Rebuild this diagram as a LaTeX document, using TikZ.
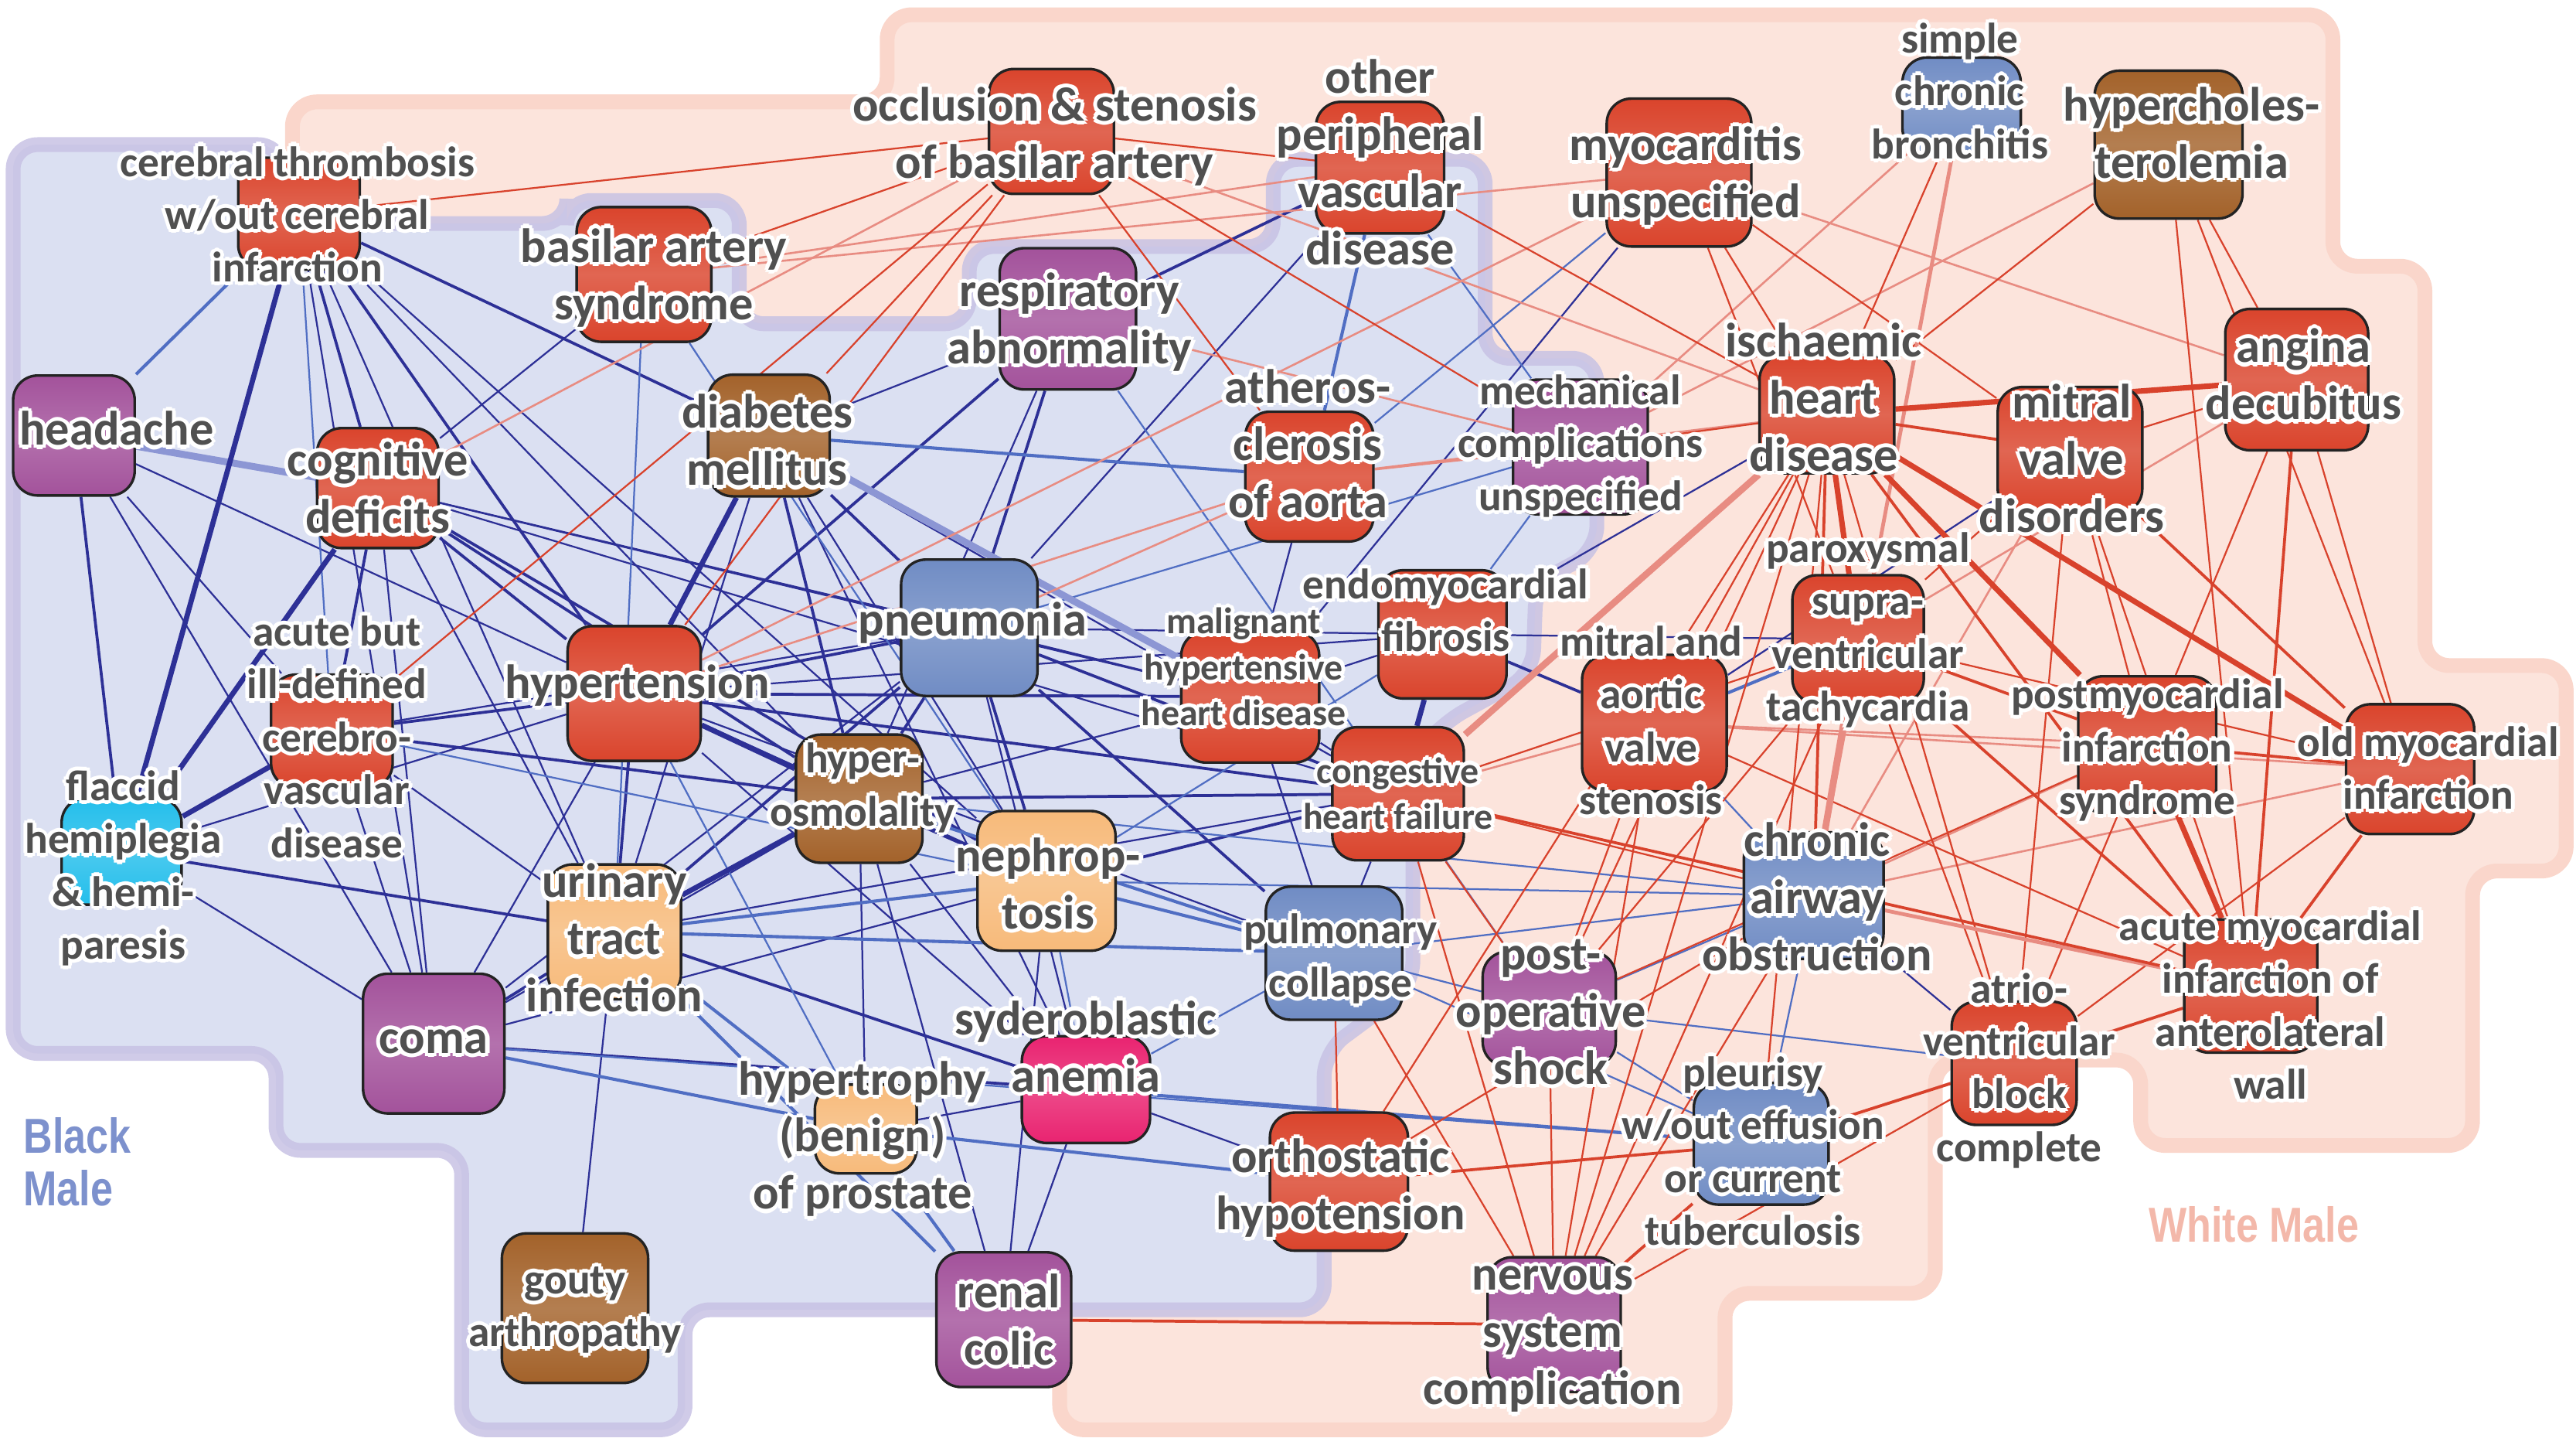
\documentclass[tikz,border=0pt]{standalone}
\usepackage{fontspec}
\setmainfont{Carlito}
\newfontfamily\regfont{Liberation Sans}[FakeStretch=0.82]
\definecolor{boxred}{RGB}{218,68,44}
\definecolor{boxpur}{RGB}{163,82,155}
\definecolor{boxbrn}{RGB}{163,98,42}
\definecolor{boxblu}{RGB}{112,140,196}
\definecolor{boxora}{RGB}{247,186,122}
\definecolor{boxcya}{RGB}{35,190,235}
\definecolor{boxpnk}{RGB}{233,35,112}
\definecolor{boxedge}{RGB}{35,35,35}
\definecolor{txtgray}{RGB}{80,80,80}
\definecolor{bmfill}{RGB}{219,224,242}
\definecolor{bmline}{RGB}{200,194,228}
\definecolor{wmfill}{RGB}{252,228,220}
\definecolor{wmline}{RGB}{250,214,203}
\definecolor{navy}{RGB}{45,48,150}
\definecolor{lblue}{RGB}{80,110,195}
\definecolor{lav}{RGB}{140,150,212}
\definecolor{ered}{RGB}{216,66,44}
\definecolor{lred}{RGB}{232,140,130}
\definecolor{bmtext}{RGB}{125,145,205}
\definecolor{wmtext}{RGB}{243,184,170}
\newdimen\glwd \glwd=1.4pt
\newcommand\glc[2]{\rlap{\color{white}\smash{\kern#1\raise#2\copy0}}}
\newcommand\glw[1]{\leavevmode\setbox0=\hbox{#1}%
\glc{-\glwd}{0pt}\glc{\glwd}{0pt}\glc{0pt}{\glwd}\glc{0pt}{-\glwd}%
\glc{-.7\glwd}{.7\glwd}\glc{.7\glwd}{.7\glwd}\glc{-.7\glwd}{-.7\glwd}\glc{.7\glwd}{-.7\glwd}%
\strut\copy0}
\pgfdeclarelayer{bgl}
\pgfdeclarelayer{edl}
\pgfdeclarelayer{tpl}
\pgfsetlayers{bgl,edl,main,tpl}
\tikzset{
  dbox/.style={draw=boxedge, line width=0.9pt, rounded corners=3mm, inner sep=0pt},
  lblL/.style={font=\fontsize{16.7}{19.8}\selectfont\bfseries, text=txtgray, align=center, inner sep=0pt},
  lblN/.style={font=\fontsize{14.8}{18.3}\selectfont\bfseries, text=txtgray, align=center, inner sep=0pt},
  lblS/.style={font=\fontsize{12.8}{15.9}\selectfont\bfseries, text=txtgray, align=center, inner sep=0pt},
  eNT/.style={draw=navy, line width=0.6pt},
  eNM/.style={draw=navy, line width=1.0pt},
  eNK/.style={draw=navy, line width=1.8pt},
  eLT/.style={draw=lblue, line width=0.6pt},
  eLM/.style={draw=lblue, line width=1.1pt},
  eLK/.style={draw=lav, line width=2.4pt},
  eRT/.style={draw=ered, line width=0.6pt},
  eRM/.style={draw=ered, line width=1.0pt},
  eRK/.style={draw=ered, line width=1.9pt},
  ePT/.style={draw=lred, line width=0.7pt},
  ePM/.style={draw=lred, line width=1.3pt},
  ePK/.style={draw=lred, line width=2.3pt},
  bmreg/.style={fill=bmfill, draw=bmline, draw opacity=0.85, line width=1.8mm, rounded corners=3mm},
  wmreg/.style={fill=wmfill, draw=wmline, line width=1.8mm, rounded corners=3mm}
}
\newcommand\bx[6]{\node[dbox, top color=#6, bottom color=#6, middle color=#6!82!white, minimum width={#4*0.2mm}, minimum height={#5*0.2mm}] (#1) at (#2,#3) {};}
\begin{document}
\begin{tikzpicture}[x=0.2mm, y=-0.2mm]
\useasboundingbox (0,0) rectangle (1568,879);
\begin{pgfonlayer}{bgl}
\path[wmreg] (178,62) -- (540,62) -- (540,9) -- (1420,9) -- (1420,162) -- (1476,162) -- (1476,405) -- (1562,405) -- (1562,530) -- (1505,530) -- (1505,697) -- (1303,697) -- (1303,645) -- (1178,645) -- (1178,787) -- (1050,787) -- (1050,870) -- (645,870) -- (645,790) -- (700,790) -- (700,240) -- (178,240) -- cycle;
\path[bmreg] (8,88) -- (172,88) -- (172,136) -- (345,136) -- (345,122) -- (450,122) -- (450,197) -- (590,197) -- (590,150) -- (775,150) -- (775,97) -- (904,97) -- (904,218) -- (972,218) -- (972,335) -- (935,355) -- (933,410) -- (878,440) -- (860,462) -- (860,600) -- (806,640) -- (806,797) -- (417,797) -- (417,870) -- (281,870) -- (281,700) -- (168,700) -- (168,641) -- (8,641) -- cycle;
\end{pgfonlayer}
% boxes
\bx{ct}{182}{130}{74}{68}{boxred}
\bx{bas}{392}{167}{82}{82}{boxred}
\bx{occ}{640}{80}{76}{76}{boxred}
\bx{opv}{840}{102}{78}{80}{boxred}
\bx{myo}{1022}{105}{88}{90}{boxred}
\bx{scb}{1194}{64}{72}{58}{boxblu}
\bx{hch}{1320}{88}{90}{90}{boxbrn}
\bx{ang}{1398}{231}{87}{86}{boxred}
\bx{head}{45}{265}{74}{73}{boxpur}
\bx{cog}{230}{297}{74}{73}{boxred}
\bx{dia}{468}{265}{74}{74}{boxbrn}
\bx{resp}{650}{194}{83}{86}{boxpur}
\bx{ath}{797}{290}{78}{79}{boxred}
\bx{mech}{962}{272}{82}{82}{boxpur}
\bx{ihd}{1112}{252}{82}{72}{boxred}
\bx{mvd}{1260}{274}{88}{77}{boxred}
\bx{pneu}{590}{382}{83}{83}{boxblu}
\bx{acd}{202}{445}{74}{69}{boxred}
\bx{hyp}{386}{422}{81}{82}{boxred}
\bx{mhh}{761}{424}{84}{80}{boxred}
\bx{emf}{878}{386}{78}{78}{boxred}
\bx{mas}{1007}{440}{88}{83}{boxred}
\bx{svt}{1131}{389}{80}{78}{boxred}
\bx{pmi}{1307}{453}{84}{83}{boxred}
\bx{omi}{1467}{468}{78}{79}{boxred}
\bx{fh}{74}{518}{73}{65}{boxcya}
\bx{hos}{523}{486}{77}{78}{boxbrn}
\bx{chf}{851}{483}{80}{81}{boxred}
\bx{nep}{637}{536}{84}{85}{boxora}
\bx{cao}{1104}{545}{85}{77}{boxblu}
\bx{uti}{374}{567}{81}{82}{boxora}
\bx{pc}{812}{580}{83}{81}{boxblu}
\bx{pos}{943}{614}{81}{70}{boxpur}
\bx{ami}{1370}{600}{81}{81}{boxred}
\bx{avb}{1226}{647}{76}{75}{boxred}
\bx{coma}{264}{635}{86}{85}{boxpur}
\bx{sa}{661}{663}{78}{65}{boxpnk}
\bx{bph}{527}{687}{62}{54}{boxora}
\bx{ple}{1072}{696}{82}{74}{boxblu}
\bx{oh}{815}{719}{84}{84}{boxred}
\bx{ga}{350}{796}{89}{91}{boxbrn}
\bx{rc}{611}{803}{82}{82}{boxpur}
\bx{nsc}{946}{806}{81}{82}{boxpur}
% edges
\begin{pgfonlayer}{edl}
\foreach \a/\b in {ct/cog, ct/hyp, ct/dia, head/fh, fh/uti, cog/acd, cog/hyp, cog/hos, cog/nep, acd/hyp, acd/hos, dia/pneu, dia/hos, resp/opv, resp/hyp, resp/pneu, chf/hyp, chf/hos, chf/pneu, chf/nep, mhh/hyp, pneu/hyp, pneu/hos, pneu/uti, pneu/nep, pneu/pc, hyp/uti, hyp/nep, hos/nep, uti/coma, uti/sa, coma/sa, mas/emf}
  \draw[eNM] (\a) -- (\b);
\foreach \a/\b in {ct/coma, ct/uti, ct/hos, ct/nep, head/hyp, head/coma, head/acd, fh/coma, fh/hyp, cog/uti, cog/coma, cog/pneu, cog/mhh, cog/bas, cog/chf, acd/coma, acd/uti, acd/pneu, dia/uti, dia/nep, dia/resp, dia/chf, dia/sa, resp/hos, opv/pneu, myo/mhh, chf/mhh, chf/pc, chf/uti, emf/mhh, emf/hyp, emf/pneu, mhh/pneu, mhh/pc, mhh/hos, mhh/ath, pneu/coma, pneu/sa, hyp/coma, hyp/pc, hyp/sa, hos/coma, hos/sa, hos/bph, hos/rc, uti/ga, nep/coma, nep/rc, sa/rc, sa/bph, oh/sa, ihd/emf, mvd/mas, svt/emf, cao/avb}
  \draw[eNT] (\a) -- (\b);
\foreach \a/\b in {ct/acd, acd/nep, bas/uti, bas/nep, resp/pos, opv/mech, myo/ath, emf/mech, emf/nep, pneu/mech, hyp/bph, nep/sa, sa/pc, mas/cao, cao/pc, cao/pos, cao/ple, cao/nep, cao/hos, avb/pos, pos/ple, pos/pc, ple/pc, ple/coma}
  \draw[eLT] (\a) -- (\b);
\foreach \a/\b in {ct/head, dia/ath, opv/ath, hos/pc, uti/nep, uti/pc, uti/bph, uti/rc, nep/pc, coma/bph, bph/rc, oh/bph, ple/sa, svt/mas}
  \draw[eLM] (\a) -- (\b);
\foreach \a/\b in {head/cog, dia/mhh}
  \draw[eLK] (\a) -- (\b);
\foreach \a/\b in {ct/fh, fh/cog, fh/acd, dia/hyp, hyp/hos, hos/uti, emf/chf}
  \draw[eNK] (\a) -- (\b);
\foreach \a/\b in {cog/occ, bas/opv, bas/myo, hyp/myo, myo/ang, scb/mech, hch/mech, ang/svt, resp/mech, ath/mech, ath/ihd, pneu/ath, hyp/ath, mvd/cao, pmi/cao, pmi/mas, omi/cao, omi/mas, ami/ple, mas/chf, ihd/occ}
  \draw[ePT] (\a) -- (\b);
\foreach \a/\b in {ct/occ, bas/occ, acd/occ, hyp/occ, dia/occ, occ/opv, occ/ath, occ/mech, opv/ihd, myo/ihd, myo/svt, myo/mvd, scb/ihd, hch/ihd, hch/ang, hch/omi, hch/ami, ang/mvd, ang/pmi, ang/omi, ihd/mech, ihd/avb, ihd/mas, ihd/pos, ihd/nsc, ihd/oh, ihd/ple, mvd/pmi, mvd/ami, mvd/svt, mvd/avb, svt/omi, svt/avb, svt/chf, svt/nsc, svt/pos, pmi/avb, pmi/pos, omi/avb, ami/mas, mas/nsc, mas/pos, cao/chf, cao/nsc, cao/oh, avb/nsc, pos/nsc, pos/chf, nsc/pc, nsc/chf, oh/pc}
  \draw[eRT] (\a) -- (\b);
\foreach \a/\b in {scb/cao, ami/cao}
  \draw[ePM] (\a) -- (\b);
\foreach \a/\b in {ihd/chf, svt/cao}
  \draw[ePK] (\a) -- (\b);
\foreach \a/\b in {ihd/mvd, ihd/ami, ihd/cao, mvd/omi, svt/pmi, svt/ami, pmi/omi, omi/ami, ang/ami, ami/avb, ami/chf, avb/ple, nsc/rc, nsc/ple, oh/ple}
  \draw[eRM] (\a) -- (\b);
\foreach \a/\b in {ihd/ang, ihd/svt, ihd/pmi, ihd/omi, pmi/ami}
  \draw[eRK] (\a) -- (\b);
\end{pgfonlayer}
% labels
\begin{pgfonlayer}{tpl}
\node[lblN] (ct-l) at (181,133) {\glw{cerebral thrombosis}\\\glw{w/out cerebral}\\\glw{infarction}};
\node[lblL] (bas-l) at (398,170) {\glw{basilar artery}\\\glw{syndrome}};
\node[lblL] (occ-l) at (642,84) {\glw{occlusion \& stenosis}\\\glw{of basilar artery}};
\node[lblL] (opv-l) at (840,102) {\glw{other}\\\glw{peripheral}\\\glw{vascular}\\\glw{disease}};
\node[lblL] (myo-l) at (1026,108) {\glw{myocarditis}\\\glw{unspecified}};
\node[lblN] (scb-l) at (1193,58) {\glw{simple}\\\glw{chronic}\\\glw{bronchitis}};
\node[lblL] (hch-l) at (1334,84) {\glw{hypercholes-}\\\glw{terolemia}};
\node[lblL] (resp-l) at (651,197) {\glw{respiratory}\\\glw{abnormality}};
\node[lblL] (head-l) at (71,264) {\glw{headache}};
\node[lblL] (cog-l) at (230,300) {\glw{cognitive}\\\glw{deficits}};
\node[lblL] (dia-l) at (467,271) {\glw{diabetes}\\\glw{mellitus}};
\node[lblL] (ath-l) at (796,273) {\glw{atheros-}\\\glw{clerosis}\\\glw{of aorta}};
\node[lblN] (mech-l) at (962,272) {\glw{mechanical}\\\glw{complications}\\\glw{unspecified}};
\node[lblL] (ihd-l) at (1110,245) {\glw{ischaemic}\\\glw{heart}\\\glw{disease}};
\node[lblL] (mvd-l) at (1261,282) {\glw{mitral}\\\glw{valve}\\\glw{disorders}};
\node[lblL] (ang-l) at (1402,231) {\glw{angina}\\\glw{decubitus}};
\node[lblN] (svt-l) at (1137,384) {\glw{paroxysmal}\\\glw{supra-}\\\glw{ventricular}\\\glw{tachycardia}};
\node[lblL] (pneu-l) at (592,380) {\glw{pneumonia}};
\node[lblN] (acd-l) at (205,451) {\glw{acute but}\\\glw{ill-defined}\\\glw{cerebro-}\\\glw{vascular}\\\glw{disease}};
\node[lblL] (hyp-l) at (388,418) {\glw{hypertension}};
\node[lblS] (mhh-l) at (757,408) {\glw{malignant}\\\glw{hypertensive}\\\glw{heart disease}};
\node[lblN] (emf-l) at (880,374) {\glw{endomyocardial}\\\glw{fibrosis}};
\node[lblN] (mas-l) at (1005,441) {\glw{mitral and}\\\glw{aortic}\\\glw{valve}\\\glw{stenosis}};
\node[lblN] (pmi-l) at (1307,457) {\glw{postmyocardial}\\\glw{infarction}\\\glw{syndrome}};
\node[lblN] (omi-l) at (1478,470) {\glw{old myocardial}\\\glw{infarction}};
\node[lblN] (fh-l) at (75,529) {\glw{flaccid}\\\glw{hemiplegia}\\\glw{\& hemi-}\\\glw{paresis}};
\node[lblN] (hos-l) at (525,480) {\glw{hyper-}\\\glw{osmolality}};
\node[lblS] (chf-l) at (851,485) {\glw{congestive}\\\glw{heart failure}};
\node[lblL] (nep-l) at (638,541) {\glw{nephrop-}\\\glw{tosis}};
\node[lblL] (cao-l) at (1106,549) {\glw{chronic}\\\glw{airway}\\\glw{obstruction}};
\node[lblL] (uti-l) at (374,574) {\glw{urinary}\\\glw{tract}\\\glw{infection}};
\node[lblN] (pc-l) at (816,584) {\glw{pulmonary}\\\glw{collapse}};
\node[lblL] (pos-l) at (944,618) {\glw{post-}\\\glw{operative}\\\glw{shock}};
\node[lblN] (ami-l) at (1382,614) {\glw{acute myocardial}\\\glw{infarction of}\\\glw{anterolateral}\\\glw{wall}};
\node[lblN] (avb-l) at (1229,652) {\glw{atrio-}\\\glw{ventricular}\\\glw{block}\\\glw{complete}};
\node[lblL] (coma-l) at (264,634) {\glw{coma}};
\node[lblL] (sa-l) at (661,640) {\glw{syderoblastic}\\\glw{anemia}};
\node[lblL] (bph-l) at (525,694) {\glw{hypertrophy}\\\glw{(benign)}\\\glw{of prostate}};
\node[lblN] (ple-l) at (1067,703) {\glw{pleurisy}\\\glw{w/out effusion}\\\glw{or current}\\\glw{tuberculosis}};
\node[lblL] (oh-l) at (816,724) {\glw{orthostatic}\\\glw{hypotension}};
\node[lblN] (ga-l) at (350,797) {\glw{gouty}\\\glw{arthropathy}};
\node[lblL] (rc-l) at (614,806) {\glw{renal}\\\glw{colic}};
\node[lblL] (nsc-l) at (945,813) {\glw{nervous}\\\glw{system}\\\glw{complication}};
\node[font=\regfont\bfseries\fontsize{17}{18.1}\selectfont, text=bmtext, align=left, anchor=west, inner sep=0pt] (bmlab) at (14,707) {Black\\Male};
\node[font=\regfont\bfseries\fontsize{17}{18.1}\selectfont, text=wmtext, inner sep=0pt] (wmlab) at (1372,745) {White Male};
\end{pgfonlayer}
\end{tikzpicture}
\end{document}
